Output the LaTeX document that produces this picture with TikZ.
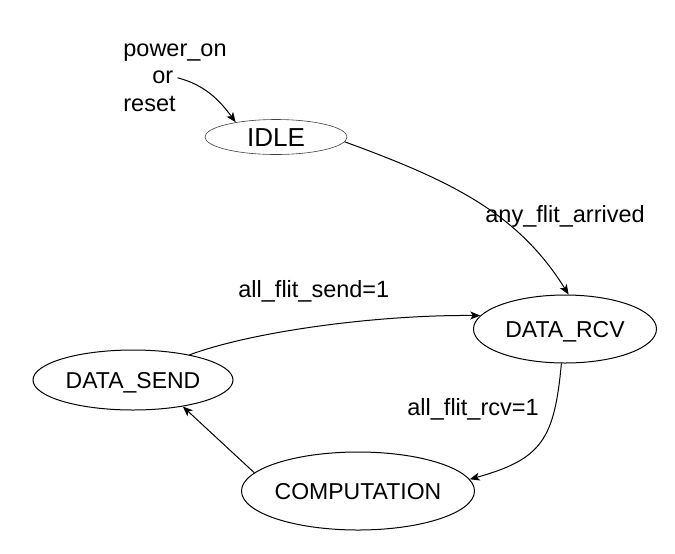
\documentclass[tikz,border=0pt]{standalone}
\usepackage{fontspec}
\setmainfont{Liberation Sans}
\usetikzlibrary{arrows.meta,shapes.geometric}

\begin{document}
\begin{tikzpicture}[
  x=0.5pt, y=-0.5pt,
  state/.style={draw, ellipse, line width=0.5pt, inner xsep=-3pt, inner ysep=0pt,
    text height=8.3pt, text depth=0pt, font=\fontsize{11.5}{14}\selectfont},
  lbl/.style={anchor=base west, inner sep=0pt, font=\fontsize{11.75}{14}\selectfont},
  arrow/.style={-{Stealth[length=5pt,width=4pt,inset=1.3pt]}, line width=0.5pt}
]
\useasboundingbox (0,0) rectangle (675,553);

\node[state, minimum width=71pt, minimum height=17.5pt, line width=0.3pt, draw=black!75,
  text height=9.4pt, font=\fontsize{13}{15}\selectfont] (idle) at (276,137) {IDLE};
\node[state, minimum width=91.5pt, minimum height=34pt] (rcv) at (565,329) {DATA\_RCV};
\node[state, minimum width=100pt, minimum height=30pt] (send) at (133,380) {DATA\_SEND};
\node[state, minimum width=116.5pt, minimum height=39pt] (comp) at (358,491) {COMPUTATION};

\node[lbl] (pwr) at (123,56) {power\_on};
\node[lbl] (orw) at (152,83) {or};
\node[lbl] (rst) at (123,111) {reset};
\node[lbl] (arrv) at (485,222) {any\_flit\_arrived};
\node[lbl] (sent) at (238,297) {all\_flit\_send=1};
\node[lbl] (rcvd) at (407,415) {all\_flit\_rcv=1};

\draw[arrow, shorten <=2pt] (orw.east) .. controls +(31,8) and +(-16,-22) .. (idle.160);
\draw[arrow] (idle.-4) .. controls +(110,40) and +(-50,-80) .. (rcv.84);
\draw[arrow] (send.24) .. controls +(65,-24) and +(-100,-1) .. (rcv.171);
\draw[arrow] (rcv.-96) .. controls +(-7,76) and +(72,-20) .. (comp.6);
\draw[arrow] (comp.170) -- (send.-28);
\end{tikzpicture}
\end{document}
